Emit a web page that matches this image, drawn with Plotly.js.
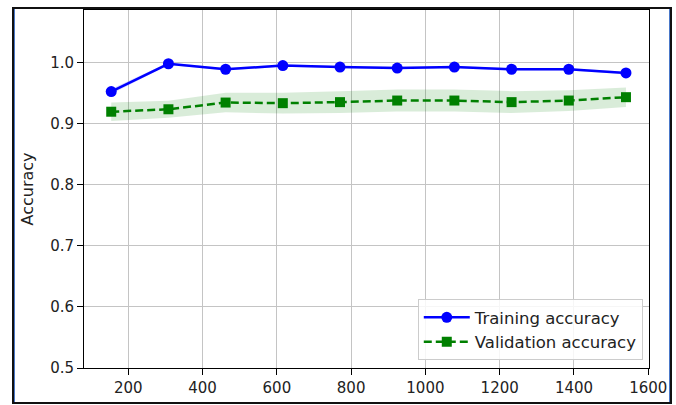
<!DOCTYPE html>
<html>
<head>
<meta charset="utf-8">
<script src="https://cdn.plot.ly/plotly-3.0.1.min.js"></script>
<style>
  html, body { margin: 0; padding: 0; background: #fff; }
  #wrap { position: relative; width: 676px; height: 405px; overflow: hidden; }
  #plot { position: absolute; left: 0; top: 0; width: 676px; height: 405px; }
  #frame { position: absolute; left: 12px; top: 7px; width: 656px; height: 393px;
           border: 2px solid #111; pointer-events: none;
           box-shadow: inset 1px 0 0 #4a78c8, inset -1px 0 0 #4a78c8; }
</style>
</head>
<body>
<div id="wrap">
  <div id="plot"></div>
  <div id="frame"></div>
</div>
<script>
// Training set sizes
const trainSizes = [154, 308, 462, 616, 770, 924, 1078, 1232, 1386, 1540];
// Mean training accuracy and its standard deviation
const trainMean = [0.9525, 0.998, 0.989, 0.995, 0.9925, 0.991, 0.9925, 0.989, 0.989, 0.983];
const trainStd  = [0.004, 0.002, 0.002, 0.002, 0.002, 0.002, 0.002, 0.002, 0.002, 0.002];
// Mean validation accuracy and its standard deviation
const valMean = [0.9195, 0.9235, 0.9345, 0.9335, 0.9352, 0.9378, 0.9378, 0.9352, 0.9378, 0.9433];
const valStd  = [0.015, 0.014, 0.016, 0.017, 0.018, 0.018, 0.018, 0.018, 0.017, 0.016];
// Tick labels
const xTicks = [200, 400, 600, 800, 1000, 1200, 1400, 1600];
const yTicks = [0.5, 0.6, 0.7, 0.8, 0.9, 1.0];
const legendNames = ['Training accuracy', 'Validation accuracy'];

const FONT = 'DejaVu Sans, sans-serif';

function band(mean, std, sign) { return mean.map((m, i) => m + sign * std[i]); }

const traces = [
  { x: trainSizes, y: band(trainMean, trainStd, 1), mode: 'lines', line: {width: 0, color: 'rgba(0,0,255,0)'},
    showlegend: false, hoverinfo: 'skip' },
  { x: trainSizes, y: band(trainMean, trainStd, -1), mode: 'lines', line: {width: 0, color: 'rgba(0,0,255,0)'},
    fill: 'tonexty', fillcolor: 'rgba(0,0,255,0.15)', showlegend: false, hoverinfo: 'skip' },
  { x: trainSizes, y: band(valMean, valStd, 1), mode: 'lines', line: {width: 0, color: 'rgba(0,128,0,0)'},
    showlegend: false, hoverinfo: 'skip' },
  { x: trainSizes, y: band(valMean, valStd, -1), mode: 'lines', line: {width: 0, color: 'rgba(0,128,0,0)'},
    fill: 'tonexty', fillcolor: 'rgba(0,128,0,0.15)', showlegend: false, hoverinfo: 'skip' },
  { x: trainSizes, y: trainMean, name: legendNames[0], mode: 'lines+markers',
    line: {color: '#0000ff', width: 2.5}, marker: {symbol: 'circle', size: 11, color: '#0000ff'} },
  { x: trainSizes, y: valMean, name: legendNames[1], mode: 'lines+markers',
    line: {color: '#008000', width: 2.5, dash: '8px,4px'}, marker: {symbol: 'square', size: 10, color: '#008000'} }
];

const axisCommon = {
  showline: true, linecolor: '#000', linewidth: 1, mirror: true,
  showgrid: true, gridcolor: '#c4c4c4', gridwidth: 1, zeroline: false,
  ticks: 'outside', ticklen: 6, tickwidth: 1, tickcolor: '#000',
  tickfont: {family: FONT, size: 15, color: '#222'}
};

const layout = {
  width: 676, height: 405,
  margin: {l: 84, r: 27, t: 10, b: 37, pad: 0},
  paper_bgcolor: '#fff', plot_bgcolor: '#fff',
  showlegend: true,
  font: {family: FONT, color: '#222'},
  xaxis: Object.assign({}, axisCommon, {
    range: [80.7, 1602], tickmode: 'array', tickvals: xTicks, ticktext: xTicks.map(String)
  }),
  yaxis: Object.assign({}, axisCommon, {
    range: [0.5, 1.086], tickmode: 'array', tickvals: yTicks, ticktext: yTicks.map(v => v.toFixed(1)),
    automargin: true,
    title: {text: 'Accuracy', standoff: 12, font: {family: FONT, size: 16, color: '#222'}}
  }),
  legend: {
    x: 0.989, y: 0.022, xanchor: 'right', yanchor: 'bottom', traceorder: 'normal',
    itemwidth: 46,
    bgcolor: 'rgba(255,255,255,0.85)', bordercolor: '#cccccc', borderwidth: 1,
    font: {family: FONT, size: 16.5, color: '#222'}
  }
};

Plotly.newPlot('plot', traces, layout, {displayModeBar: false, staticPlot: true});
</script>
</body>
</html>
